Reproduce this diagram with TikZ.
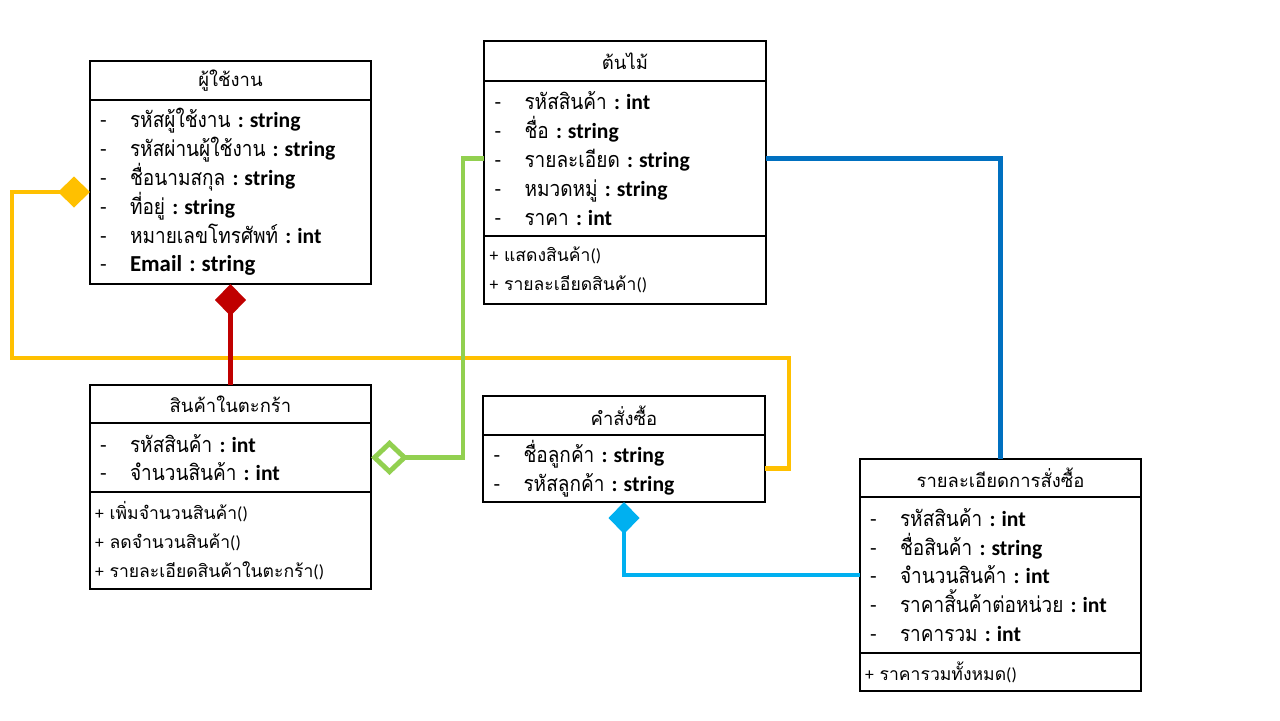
\documentclass[tikz,border=0pt]{standalone}
\usepackage{fontspec}
\setmainfont{Carlito}
\newfontfamily\thai[Script=Thai]{Loma}
\newfontfamily\thaic[Script=Thai,FakeStretch=0.88]{Loma}
\usetikzlibrary{arrows.meta,positioning}
\definecolor{redc}{HTML}{C00000}
\definecolor{gold}{HTML}{FFC000}
\definecolor{lime}{HTML}{92D050}
\definecolor{navy}{HTML}{0070C0}
\definecolor{sky}{HTML}{00B0F0}
\lineskiplimit=-20pt
\lineskip=0pt
\newcommand{\attrow}[2]{\makebox[0.6cm][l]{-}{\thaic #1} \textbf{:\hspace{0.12cm}#2}}
\newcommand{\oprow}[1]{+ {\thai #1}()}

\begin{document}
\begin{tikzpicture}[
  hd/.style={draw,line width=1.1pt,minimum width=5.62cm,inner sep=0,outer sep=0,font=\thai\fontsize{10.5}{12}\selectfont},
  cmp/.style={draw,line width=1.1pt,minimum width=5.62cm,text width=5.22cm,inner xsep=0.2cm,inner ysep=0,outer sep=0,align=left,font=\fontsize{12.3}{16.44}\selectfont},
  ops/.style={cmp,inner xsep=0.1cm,text width=5.42cm,font=\fontsize{10}{16.44}\selectfont},
  lnk/.style={line width=2.8pt},
  full/.style={{Diamond[length=0.64cm,width=0.62cm]}-},
  hollow/.style={{Diamond[open,length=0.74cm,width=0.7cm]}-}]
  \useasboundingbox (0,0) rectangle (25.6,-14.4);
  % ผู้ใช้งาน
  \node[hd,anchor=north west,minimum height=0.78cm] (user) at (1.8,-1.22) {ผู้ใช้งาน};
  \node[cmp,below=0pt of user,minimum height=3.68cm] (userA) {%
    \attrow{รหัสผู้ใช้งาน}{string}\\
    \attrow{รหัสผ่านผู้ใช้งาน}{string}\\
    \attrow{ชื่อนามสกุล}{string}\\
    \attrow{ที่อยู่}{string}\\
    \attrow{หมายเลขโทรศัพท์}{int}\\
    \makebox[0.6cm][l]{-}{\fontsize{13}{16}\selectfont\textbf{Email :\hspace{0.12cm}string}}};
  % ต้นไม้
  \node[hd,anchor=north west,minimum height=0.8cm,minimum width=5.64cm] (tree) at (9.68,-0.82) {ต้นไม้};
  \node[cmp,below=0pt of tree,minimum height=3.1cm,minimum width=5.64cm] (treeA) {%
    \attrow{รหัสสินค้า}{int}\\
    \attrow{ชื่อ}{string}\\
    \attrow{รายละเอียด}{string}\\
    \attrow{หมวดหมู่}{string}\\
    \attrow{ราคา}{int}};
  \node[ops,below=0pt of treeA,minimum height=1.36cm,minimum width=5.64cm] (treeM) {%
    \oprow{แสดงสินค้า}\\
    \oprow{รายละเอียดสินค้า}};
  % สินค้าในตะกร้า
  \node[hd,anchor=north west,minimum height=0.76cm] (cart) at (1.8,-7.7) {สินค้าในตะกร้า};
  \node[cmp,below=0pt of cart,minimum height=1.38cm] (cartA) {%
    \attrow{รหัสสินค้า}{int}\\
    \attrow{จำนวนสินค้า}{int}};
  \node[ops,below=0pt of cartA,minimum height=1.94cm] (cartM) {%
    \oprow{เพิ่มจำนวนสินค้า}\\
    \oprow{ลดจำนวนสินค้า}\\
    \oprow{รายละเอียดสินค้าในตะกร้า}};
  % คำสั่งซื้อ
  \node[hd,anchor=north west,minimum height=0.78cm,minimum width=5.64cm] (order) at (9.66,-7.92) {คำสั่งซื้อ};
  \node[cmp,below=0pt of order,minimum height=1.34cm,minimum width=5.64cm] (orderA) {%
    \attrow{ชื่อลูกค้า}{string}\\
    \attrow{รหัสลูกค้า}{string}};
  % รายละเอียดการสั่งซื้อ
  \node[hd,anchor=north west,minimum height=0.76cm] (detail) at (17.2,-9.18) {รายละเอียดการสั่งซื้อ};
  \node[cmp,below=0pt of detail,minimum height=3.12cm] (detailA) {%
    \attrow{รหัสสินค้า}{int}\\
    \attrow{ชื่อสินค้า}{string}\\
    \attrow{จำนวนสินค้า}{int}\\
    \attrow{ราคาสิ้นค้าต่อหน่วย}{int}\\
    \attrow{ราคารวม}{int}};
  \node[ops,below=0pt of detailA,minimum height=0.76cm] (detailM) {%
    \oprow{ราคารวมทั้งหมด}};
  % links
  \coordinate (yl) at (0.24,-7.16);
  \coordinate (yr) at (15.78,-7.16);
  \draw[lnk,gold,full] (userA.west) -| (yl) -- (yr) |- (orderA.east);
  \draw[lnk,redc,full] (userA.south) -- (cart.north);
  \draw[lnk,lime,hollow] (cartA.east) -| ([xshift=-0.42cm]treeA.west) -- (treeA.west);
  \draw[lnk,navy] (treeA.east) -| (detail.north);
  \draw[lnk,sky,full] (orderA.south) |- (detailA.west);
\end{tikzpicture}
\end{document}
